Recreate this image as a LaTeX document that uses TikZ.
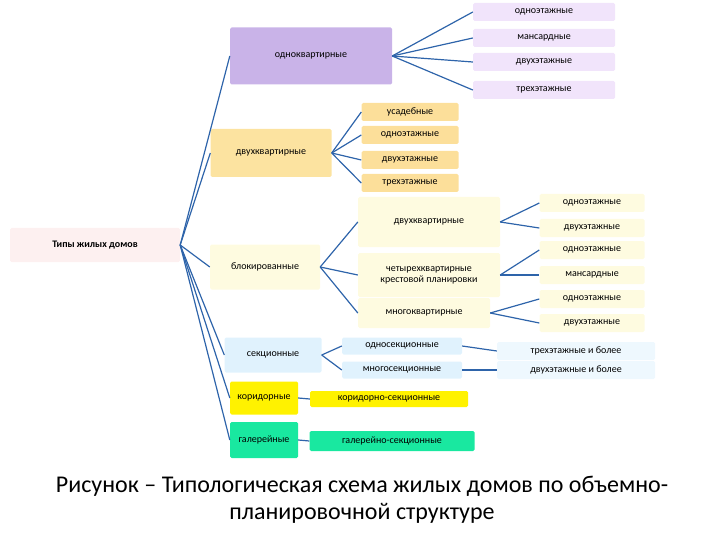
\documentclass[tikz,border=0pt]{standalone}
\usepackage{fontspec}
\setmainfont{Carlito}
\begin{document}
\begin{tikzpicture}[x=1pt,y=-1pt,
  bx/.style={rounded corners=1.5pt,inner sep=0pt,align=center,font=\fontsize{10}{11}\selectfont},
  ln/.style={draw={rgb,255:red,46;green,100;blue,170},line width=1.2pt}]
\definecolor{lav}{HTML}{C9B3E8}\definecolor{lavl}{HTML}{F1E4FB}
\definecolor{org}{HTML}{FCE3A0}\definecolor{orgl}{HTML}{FCDF9A}
\definecolor{cre}{HTML}{FEFBE0}\definecolor{blu}{HTML}{E0F2FD}\definecolor{blul}{HTML}{EEF8FE}
\definecolor{yel}{HTML}{FFF200}\definecolor{grn}{HTML}{19E8A0}\definecolor{pnk}{HTML}{FDF0F0}
\useasboundingbox (0,0) rectangle (720,540);
\node[bx,fill=pnk,minimum width=170,minimum height=34,font=\fontsize{10}{11}\selectfont\bfseries] (root) at (95,245) {Типы жилых домов};
\node[bx,fill=lav,minimum width=162,minimum height=57] (a) at (311,56) {одноквартирные};
\foreach \n/\y/\t in {a1/12/одноэтажные,a2/38/мансардные,a3/62/двухэтажные,a4/90/трехэтажные}
  \node[bx,fill=lavl,minimum width=142,minimum height=18] (\n) at (544,\y) {\t};
\node[bx,fill=org,minimum width=121,minimum height=48] (b) at (271,153) {двухквартирные};
\foreach \n/\y/\t in {b1/112/усадебные,b2/135/одноэтажные,b3/160/двухэтажные,b4/183/трехэтажные}
  \node[bx,fill=orgl,minimum width=97,minimum height=18] (\n) at (410,\y) {\t};
\node[bx,fill=cre,minimum width=110,minimum height=45] (c) at (265,267) {блокированные};
\node[bx,fill=cre,minimum width=142,minimum height=50] (c1) at (429,222) {двухквартирные};
\node[bx,fill=cre,minimum width=142,minimum height=44] (c2) at (429,275) {четырехквартирные\\крестовой планировки};
\node[bx,fill=cre,minimum width=132,minimum height=30] (c3) at (424,313) {многоквартирные};
\foreach \n/\y/\t in {l1/203/одноэтажные,l2/228/двухэтажные,l3/250/одноэтажные,l4/275/мансардные,l5/299/одноэтажные,l6/323/двухэтажные}
  \node[bx,fill=cre,minimum width=105,minimum height=18] (\n) at (592,\y) {\t};
\node[bx,fill=blu,minimum width=97,minimum height=35] (d) at (273,355) {секционные};
\node[bx,fill=blu,minimum width=120,minimum height=17] (d1) at (402,346) {односекционные};
\node[bx,fill=blu,minimum width=120,minimum height=17] (d2) at (402,370) {многосекционные};
\node[bx,fill=blul,minimum width=158,minimum height=18] (e1) at (576,351) {трехэтажные и более};
\node[bx,fill=blul,minimum width=158,minimum height=18] (e2) at (576,370) {двухэтажные и более};
\node[bx,fill=yel,minimum width=68,minimum height=33] (f) at (264,398) {коридорные};
\node[bx,fill=yel,minimum width=158,minimum height=16] (f1) at (389,399) {коридорно-секционные};
\node[bx,fill=grn,minimum width=68,minimum height=36] (g) at (264,440) {галерейные};
\node[bx,fill=grn,minimum width=165,minimum height=20] (g1) at (392,441) {галерейно-секционные};
\foreach \t in {a,b,c,d,f,g} \draw[ln] (root.east) -- (\t.west);
\foreach \t in {a1,a2,a3,a4} \draw[ln] (a.east) -- (\t.west);
\foreach \t in {b1,b2,b3,b4} \draw[ln] (b.east) -- (\t.west);
\foreach \t in {c1,c2,c3} \draw[ln] (c.east) -- (\t.west);
\draw[ln] (c1.east) -- (l1.west); \draw[ln] (c1.east) -- (l2.west);
\draw[ln] (c2.east) -- (l3.west); \draw[ln] (c2.east) -- (l4.west);
\draw[ln] (c3.east) -- (l5.west); \draw[ln] (c3.east) -- (l6.west);
\draw[ln] (d.east) -- (d1.west); \draw[ln] (d.east) -- (d2.west);
\draw[ln] (d1.east) -- (e1.west); \draw[ln] (d2.east) -- (e2.west);
\draw[ln] (f.east) -- (f1.west); \draw[ln] (g.east) -- (g1.west);
\node[font=\fontsize{24}{27}\selectfont,align=center] (cap) at (362,500) {Рисунок – Типологическая схема жилых домов по объемно-\\планировочной структуре};
\end{tikzpicture}
\end{document}
